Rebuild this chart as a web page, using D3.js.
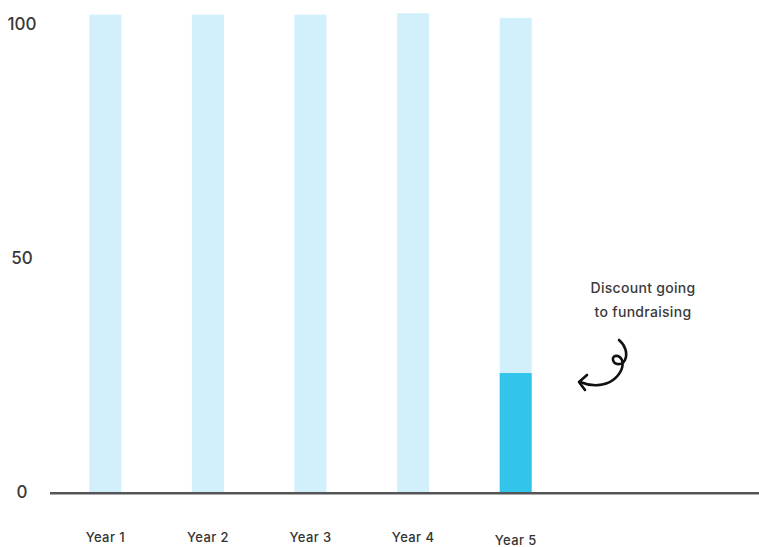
<!DOCTYPE html>
<html>
<head>
<meta charset="utf-8">
<script src="https://cdn.jsdelivr.net/npm/d3@7"></script>
<style>
html,body{margin:0;padding:0;background:#fff;}
svg{display:block;}
</style>
</head>
<body>
<svg id="chart" width="759" height="547"></svg>
<script>
const categories = ["Year 1", "Year 2", "Year 3", "Year 4", "Year 5"];
const totalValues = [102, 102, 102, 102.3, 101.3];
const fundraisingValues = [0, 0, 0, 0, 25.5];
const yTickValues = [0, 50, 100];
const annotationLines = ["Discount going", "to fundraising"];

const svg = d3.select("#chart");
const W = 759, H = 547;

const x = d3.scaleBand().domain(categories).range([54, 567]).paddingInner(0.688).paddingOuter(0.344);
const y = d3.scaleLinear().domain([0, 100]).range([492.5, 24]);

// light bars
svg.append("g").selectAll("rect").data(categories).join("rect")
  .attr("x", d => x(d))
  .attr("width", x.bandwidth())
  .attr("y", (d, i) => y(totalValues[i]))
  .attr("height", (d, i) => y(0) - y(totalValues[i]))
  .attr("fill", "#d1f0fb");

// dark segment
svg.append("g").selectAll("rect").data(categories).join("rect")
  .attr("x", d => x(d))
  .attr("width", x.bandwidth())
  .attr("y", (d, i) => y(fundraisingValues[i]))
  .attr("height", (d, i) => y(0) - y(fundraisingValues[i]))
  .attr("fill", "#33c4ec");

// baseline
svg.append("line")
  .attr("x1", 50).attr("x2", W)
  .attr("y1", y(0) + 0.8).attr("y2", y(0) + 0.8)
  .attr("stroke", "#555").attr("stroke-width", 2.4);

// y tick labels
const yAxis = d3.axisLeft(y).tickValues(yTickValues).tickSize(0).tickPadding(0);
const yg = svg.append("g").attr("transform", "translate(22,0)").call(yAxis);
yg.select(".domain").remove();
yg.selectAll("text")
  .attr("text-anchor", "middle")
  .attr("font-family", "Inter, Roboto, sans-serif")
  .attr("font-size", 17)
  .attr("font-weight", 500)
  .attr("fill", "#383838");

// x labels
const xAxis = d3.axisBottom(x).tickSize(0).tickPadding(0);
const xg = svg.append("g").attr("transform", "translate(0,532.5)").call(xAxis);
xg.select(".domain").remove();
xg.selectAll("text")
  .attr("font-family", "Inter, Roboto, sans-serif")
  .attr("font-size", 13)
  .attr("font-weight", 500)
  .attr("letter-spacing", 0.4)
  .attr("fill", "#333")
  .attr("dy", (d, i) => i === 4 ? "0.95em" : "0.71em");

// annotation
const ann = svg.append("text")
  .attr("font-family", "Inter, Roboto, sans-serif")
  .attr("font-size", 14)
  .attr("font-weight", 500)
  .attr("letter-spacing", 0.3)
  .attr("fill", "#3a3a3a")
  .attr("text-anchor", "middle");
annotationLines.forEach((t, i) => {
  ann.append("tspan").attr("x", 643).attr("y", 293 + i * 23.5).text(t);
});

// hand-drawn arrow
svg.append("path")
  .attr("d", "M619,340 C625,345 628,353 625,360 C622,366 614,365 613,360 C612,355 619,354 622,360 C624,366 621,374 613,380 C605,386 592,387 580,382")
  .attr("fill", "none").attr("stroke", "#111").attr("stroke-width", 2.6)
  .attr("stroke-linecap", "round").attr("stroke-linejoin", "round");
svg.append("path")
  .attr("d", "M587,375 L579,382 L585,390")
  .attr("fill", "none").attr("stroke", "#111").attr("stroke-width", 2.6)
  .attr("stroke-linecap", "round").attr("stroke-linejoin", "round");
</script>
</body>
</html>
